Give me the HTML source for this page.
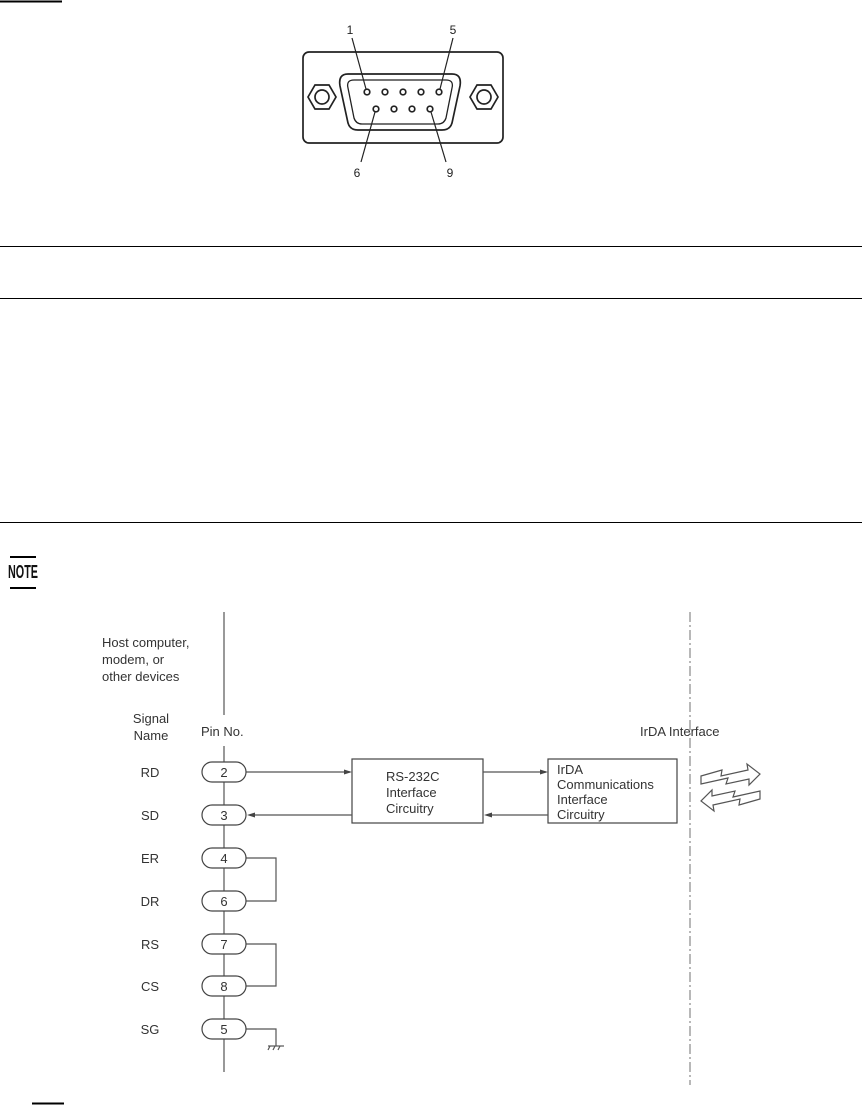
<!DOCTYPE html>
<html><head><style>
body{margin:0;background:#fff;}
svg{display:block;font-family:"Liberation Sans",Arial,sans-serif;}
</style></head><body>
<svg width="862" height="1114" viewBox="0 0 862 1114" xmlns="http://www.w3.org/2000/svg">
<g stroke="#000" fill="none">
<line x1="0" y1="1.5" x2="62" y2="1.5" stroke-width="2"/>
<line x1="0" y1="246.5" x2="862" y2="246.5"/>
<line x1="0" y1="298.5" x2="862" y2="298.5"/>
<line x1="0" y1="522.5" x2="862" y2="522.5"/>
<line x1="32" y1="1103.5" x2="64" y2="1103.5" stroke-width="2"/>
</g>
<!-- DB9 connector -->
<g stroke="#222" fill="none" stroke-width="1.7">
<rect x="303" y="52" width="200" height="91" rx="6"/>
<path d="M348 74 L452 74 Q462 74 460 86 L452 123 Q450 130 442 130 L358 130 Q350 130 348 123 L340 86 Q338 74 348 74 Z"/>
<path d="M354 80 L446 80 Q454 80 452 88 L446 118 Q444 124 438 124 L362 124 Q356 124 354 118 L348 88 Q346 80 354 80 Z" stroke-width="1.3"/>
<polygon points="308,97 315,85 329,85 336,97 329,109 315,109"/>
<circle cx="322" cy="97" r="7"/>
<polygon points="470,97 477,85 491,85 498,97 491,109 477,109"/>
<circle cx="484" cy="97" r="7"/>
<circle cx="367" cy="92" r="2.8"/><circle cx="385" cy="92" r="2.8"/><circle cx="403" cy="92" r="2.8"/><circle cx="421" cy="92" r="2.8"/><circle cx="439" cy="92" r="2.8"/>
<circle cx="376" cy="109" r="2.8"/><circle cx="394" cy="109" r="2.8"/><circle cx="412" cy="109" r="2.8"/><circle cx="430" cy="109" r="2.8"/>
<line x1="352" y1="38" x2="366" y2="89" stroke-width="1.2"/><line x1="453" y1="38" x2="440" y2="89" stroke-width="1.2"/>
<line x1="361" y1="162" x2="375" y2="112" stroke-width="1.2"/><line x1="446" y1="162" x2="431" y2="112" stroke-width="1.2"/>
</g>
<g font-size="12" fill="#222" text-anchor="middle">
<text x="350" y="34">1</text><text x="453" y="34">5</text>
<text x="357" y="177">6</text><text x="450" y="177">9</text>
</g>
<!-- NOTE -->
<line x1="10" y1="557" x2="36" y2="557" stroke="#000" stroke-width="2"/>
<text x="8" y="578" font-size="18" font-weight="bold" textLength="30" lengthAdjust="spacingAndGlyphs" fill="#111">NOTE</text>
<line x1="10" y1="588" x2="36" y2="588" stroke="#000" stroke-width="2"/>
<!-- diagram -->
<g stroke="#555" fill="none" stroke-width="1.2">
<line x1="224" y1="612" x2="224" y2="715"/>
<line x1="224" y1="746" x2="224" y2="1072"/>
<line x1="690" y1="612" x2="690" y2="1085" stroke-dasharray="10,3,2,3" stroke="#888"/>
<rect x="352" y="759" width="131" height="64" stroke="#444"/>
<rect x="548" y="759" width="129" height="64" stroke="#444"/>
<line x1="246" y1="772" x2="350" y2="772"/>
<line x1="250" y1="815" x2="352" y2="815"/>
<line x1="483" y1="772" x2="546" y2="772"/>
<line x1="487" y1="815" x2="548" y2="815"/>
<polyline points="246,858 276,858 276,901 246,901"/>
<polyline points="246,944 276,944 276,986 246,986"/>
<polyline points="246,1029 276,1029 276,1046"/>
<line x1="268" y1="1046" x2="284" y2="1046"/>
<line x1="270" y1="1046" x2="268" y2="1050"/><line x1="275" y1="1046" x2="273" y2="1050"/><line x1="280" y1="1046" x2="278" y2="1050"/>
<path d="M701 776 L722 770 L721 776 L748 770 L747 764 L760 774 L749 785 L749 779 L726 784 L728 778 L701 784 Z"/>
<path d="M760 799 L739 805 L740 799 L713 805 L714 811 L701 801 L712 790 L712 796 L735 791 L733 797 L760 791 Z"/>
</g>
<g fill="#444">
<polygon points="352,772 344,769.5 344,774.5"/>
<polygon points="247,815 255,812.5 255,817.5"/>
<polygon points="548,772 540,769.5 540,774.5"/>
<polygon points="484,815 492,812.5 492,817.5"/>
</g>
<g fill="#fff" stroke="#444" stroke-width="1.2">
<rect x="202" y="762" width="44" height="20" rx="10"/>
<rect x="202" y="805" width="44" height="20" rx="10"/>
<rect x="202" y="848" width="44" height="20" rx="10"/>
<rect x="202" y="891" width="44" height="20" rx="10"/>
<rect x="202" y="934" width="44" height="20" rx="10"/>
<rect x="202" y="976" width="44" height="20" rx="10"/>
<rect x="202" y="1019" width="44" height="20" rx="10"/>
</g>
<g font-size="13" fill="#333" text-anchor="middle">
<text x="224" y="777">2</text><text x="224" y="820">3</text><text x="224" y="863">4</text>
<text x="224" y="906">6</text><text x="224" y="949">7</text><text x="224" y="991">8</text><text x="224" y="1034">5</text>
<text x="150" y="777">RD</text><text x="150" y="820">SD</text><text x="150" y="863">ER</text>
<text x="150" y="906">DR</text><text x="150" y="949">RS</text><text x="150" y="991">CS</text><text x="150" y="1034">SG</text>
<text x="151" y="723">Signal</text><text x="151" y="740">Name</text>
</g>
<g font-size="13" fill="#333">
<text x="102" y="647">Host computer,</text>
<text x="102" y="664">modem, or</text>
<text x="102" y="681">other devices</text>
<text x="201" y="736">Pin No.</text>
<text x="640" y="736">IrDA Interface</text>
<text x="386" y="781">RS-232C</text>
<text x="386" y="797">Interface</text>
<text x="386" y="813">Circuitry</text>
<text x="557" y="774">IrDA</text>
<text x="557" y="789">Communications</text>
<text x="557" y="804">Interface</text>
<text x="557" y="819">Circuitry</text>
</g>
</svg>
</body></html>
